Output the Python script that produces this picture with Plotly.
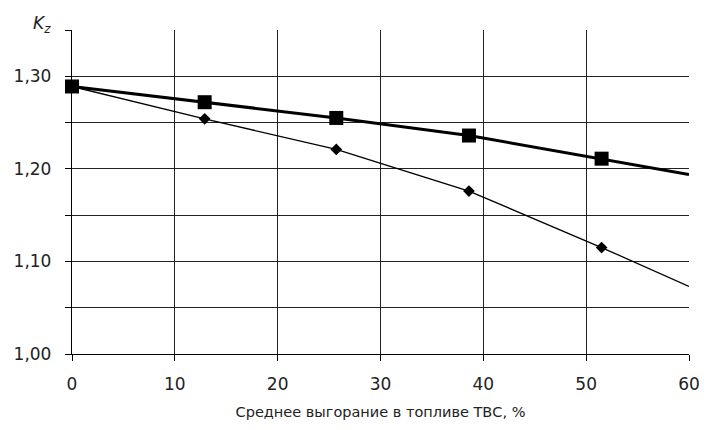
import plotly.graph_objects as go

# Burnup (%) and axial peaking factor Kz for the two cases
burnup = [0, 12.9, 25.7, 38.6, 51.5, 60]
kz_square = [1.289, 1.272, 1.255, 1.236, 1.211, 1.194]
kz_diamond = [1.289, 1.254, 1.221, 1.176, 1.115, 1.073]
square_size = [14, 14, 14, 14, 14, 0]
diamond_size = [0, 9, 9, 9, 9, 0]

y_ticks = [1.00, 1.10, 1.20, 1.30]
y_ticklabels = ["1,00", "1,10", "1,20", "1,30"]
y_minor = [1.05, 1.15, 1.25, 1.35]
x_ticks = [0, 10, 20, 30, 40, 50, 60]
x_ticklabels = ["0", "10", "20", "30", "40", "50", "60"]

fig = go.Figure()
fig.add_trace(go.Scatter(
    x=burnup, y=kz_diamond, mode="lines+markers",
    line=dict(color="black", width=1.3),
    marker=dict(symbol="diamond", size=diamond_size, color="black",
                opacity=1, line=dict(width=0)),
    showlegend=False, cliponaxis=False))
fig.add_trace(go.Scatter(
    x=burnup, y=kz_square, mode="lines+markers",
    line=dict(color="black", width=3),
    marker=dict(symbol="square", size=square_size, color="black",
                opacity=1, line=dict(width=0)),
    showlegend=False, cliponaxis=False))

font = dict(family="DejaVu Sans, sans-serif", size=16, color="#222")

fig.update_layout(
    width=712, height=430,
    margin=dict(l=72, r=19, t=30, b=73),
    paper_bgcolor="white", plot_bgcolor="white",
    font=font,
    xaxis=dict(
        range=[0, 60], tickmode="array", tickvals=x_ticks, ticktext=x_ticklabels,
        showgrid=True, gridcolor="#222", gridwidth=1,
        showline=True, linecolor="black", linewidth=1.3,
        ticks="outside", ticklen=6, tickcolor="black",
        ticklabelstandoff=8, tickfont=dict(size=17),
        zeroline=False,
        title=dict(text="Среднее выгорание в топливе ТВС, %", standoff=14,
                   font=dict(size=14.5)),
    ),
    yaxis=dict(
        range=[1.0, 1.35], tickmode="array",
        tickvals=y_ticks, ticktext=y_ticklabels,
        showgrid=True, gridcolor="#222", gridwidth=1,
        showline=True, linecolor="black", linewidth=1.3,
        ticks="outside", ticklen=6, tickcolor="black",
        ticklabelstandoff=10, tickfont=dict(size=17),
        minor=dict(tickmode="array", tickvals=y_minor, ticks="outside",
                   ticklen=6, tickcolor="black", showgrid=True,
                   gridcolor="#222", gridwidth=1),
        zeroline=False,
    ),
    annotations=[dict(
        text="<i>K<sub>z</sub></i>", xref="paper", yref="paper",
        x=-0.031, y=0.975, xanchor="right", yanchor="bottom",
        showarrow=False, font=dict(size=17, color="#222"))],
)

fig.write_html("out.html")
